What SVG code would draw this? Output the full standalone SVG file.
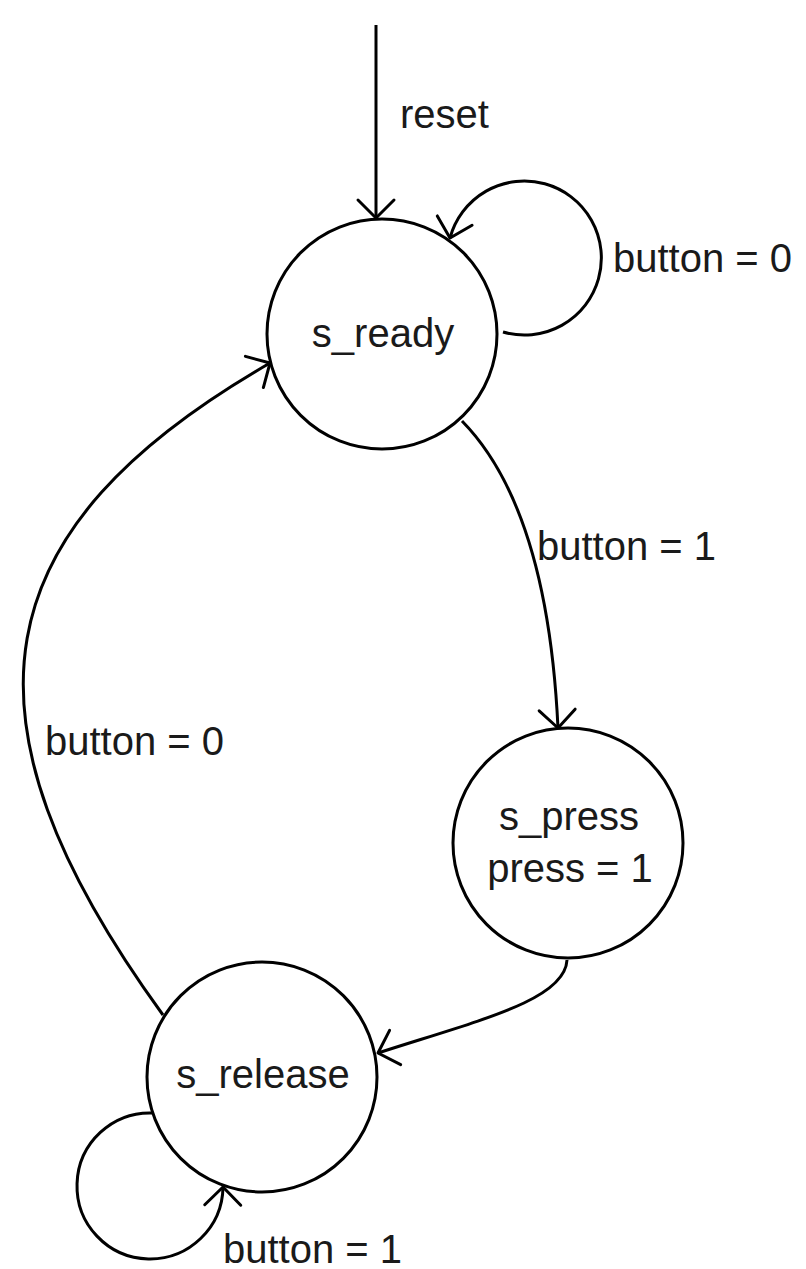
<svg xmlns="http://www.w3.org/2000/svg" width="806" height="1269" viewBox="0 0 806 1269">
<style>
.state{fill:#fff;stroke:#000;stroke-width:3}
.edge{fill:none;stroke:#000;stroke-width:3;marker-end:url(#arr)}
text{font-family:"Liberation Sans",Arial,sans-serif;font-size:40px;fill:#1a1a1a}
.c{text-anchor:middle}
</style>
<defs>
<marker id="arr" markerUnits="userSpaceOnUse" viewBox="-20 -20 24 40" refX="0" refY="0" markerWidth="24" markerHeight="40" orient="auto" overflow="visible">
<path d="M-18,-18 L0,0 L-18,18" fill="none" stroke="#000" stroke-width="3" stroke-linecap="round" stroke-linejoin="round"/>
</marker>
</defs>
<g id="connectors">
<path class="edge" d="M376,25 L376,218"/>
<path class="edge" d="M503,332 A77,77 0 1 0 450,238"/>
<path class="edge" d="M462,421 C510,470 550,560 558,728"/>
<path class="edge" d="M567,960 C565,1000 480,1020 378,1053"/>
<path class="edge" d="M163,1015 C-55,715 -17,528 270,363"/>
<path class="edge" d="M153,1113 A73,73 0 1 0 223,1187"/>
</g>
<g id="labels">
<text x="400" y="128">reset</text>
<text x="613" y="272">button = 0</text>
<text x="537" y="560">button = 1</text>
<text x="45" y="755">button = 0</text>
<text x="223" y="1263">button = 1</text>
</g>
<g id="s_ready">
<circle class="state" cx="382" cy="334" r="115"/>
<text class="c" x="383" y="347">s_ready</text>
</g>
<g id="s_press">
<circle class="state" cx="568" cy="843" r="115"/>
<text class="c" x="569" y="830">s_press</text>
<text class="c" x="570" y="882">press = 1</text>
</g>
<g id="s_release">
<circle class="state" cx="262" cy="1077" r="115"/>
<text class="c" x="263" y="1088">s_release</text>
</g>
</svg>
